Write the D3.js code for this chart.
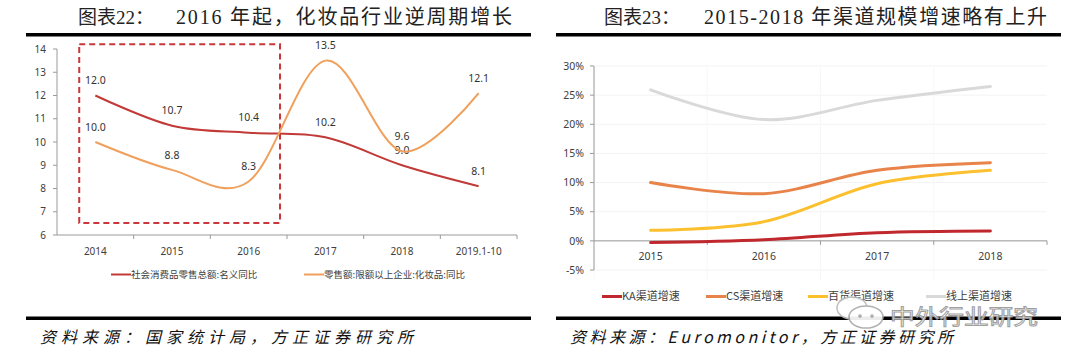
<!DOCTYPE html>
<html>
<head>
<meta charset="utf-8">
<script src="https://cdn.jsdelivr.net/npm/d3@7"></script>
<style>
body { margin: 0; background: #fff; }
svg { display: block; }
</style>
</head>
<body>
<svg id="chart" width="1080" height="353"></svg>
<script>
// left chart data
var yearsL = ["2014", "2015", "2016", "2017", "2018", "2019.1-10"];
var retailTotal = [12.0, 10.7, 10.4, 10.2, 9.0, 8.1];
var cosmetics = [10.0, 8.8, 8.3, 13.5, 9.6, 12.1];
var ticksL = [6, 7, 8, 9, 10, 11, 12, 13, 14];
var legendL = ["社会消费品零售总额:名义同比", "零售额:限额以上企业:化妆品:同比"];

// right chart data
var yearsR = ["2015", "2016", "2017", "2018"];
var kaRate = [-0.3, 0.2, 1.4, 1.7];
var csRate = [10.0, 8.1, 12.1, 13.4];
var dsRate = [1.8, 3.3, 9.8, 12.1];
var onlineRate = [25.9, 20.8, 24.1, 26.5];
var ticksR = [-5, 0, 5, 10, 15, 20, 25, 30];
var legendR = ["KA渠道增速", "CS渠道增速", "百货渠道增速", "线上渠道增速"];

var svg = d3.select("#chart");
var cjk = "'Noto Sans CJK SC', 'Noto Sans', sans-serif";
var serif = "'Liberation Serif', 'Noto Sans CJK SC', serif";

function header(x0, lead, restStart, restEnd, rest) {
 svg.append("text").attr("x", x0).attr("y", 24)
 .style("font-family", serif).style("font-size", "19px").attr("fill", "#222").text(lead);
 svg.append("text").attr("x", restStart).attr("y", 24).attr("textLength", restEnd - restStart).attr("lengthAdjust", "spacing")
 .style("font-family", serif).style("font-size", "20px").attr("fill", "#222").text(rest);
}
function rules(x0, x1) {
 svg.append("rect").attr("x", x0).attr("y", 33).attr("width", x1 - x0).attr("height", 3.5).attr("fill", "#000");
 svg.append("rect").attr("x", x0).attr("y", 316.5).attr("width", x1 - x0).attr("height", 3.5).attr("fill", "#000");
}
function source(x, x1, txt) {
 svg.append("text").attr("x", x).attr("y", 343).attr("textLength", x1 - x).attr("lengthAdjust", "spacing")
 .style("font-family", cjk).style("font-style", "italic").style("font-size", "16px").attr("fill", "#111").text(txt);
}

rules(26, 531);
rules(556, 1061);
header(78, "图表22：", 176, 512, "2016 年起，化妆品行业逆周期增长");
header(604, "图表23：", 704, 1047, "2015-2018 年渠道规模增速略有上升");
source(40, 413, "资料来源：国家统计局，方正证券研究所");
source(570, 953, "资料来源：Euromonitor，方正证券研究所");

// ---------- left chart ----------
var xL = d3.scaleBand().domain(yearsL).range([57, 517]);
var yL = d3.scaleLinear().domain([6, 14]).range([235, 49]);
var gL = svg.append("g");
var axisCol = "#9a9a9a";

gL.append("line").attr("x1", 57).attr("x2", 57).attr("y1", yL(14)).attr("y2", yL(6)).attr("stroke", axisCol);
gL.append("line").attr("x1", 57).attr("x2", 517).attr("y1", yL(6)).attr("y2", yL(6)).attr("stroke", axisCol);
ticksL.forEach(function(t) {
 gL.append("line").attr("x1", 53).attr("x2", 57).attr("y1", yL(t)).attr("y2", yL(t)).attr("stroke", axisCol);
 gL.append("text").attr("x", 46).attr("y", yL(t)).attr("dy", "0.35em").attr("text-anchor", "end")
 .style("font-family", "'Noto Sans', sans-serif").style("font-size", "10px").attr("fill", "#404040").text(t);
});
yearsL.forEach(function(c) {
 var bx = xL(c) + xL.bandwidth();
 gL.append("line").attr("x1", bx).attr("x2", bx).attr("y1", yL(6)).attr("y2", yL(6) + 4).attr("stroke", axisCol);
 gL.append("text").attr("x", xL(c) + xL.bandwidth() / 2).attr("y", 255).attr("text-anchor", "middle")
 .style("font-family", "'Noto Sans', sans-serif").style("font-size", "10px").attr("fill", "#404040").text(c);
});

// dashed box around 2014-2016
gL.append("rect")
 .attr("x", xL("2014") + xL.bandwidth() * 0.29)
 .attr("y", yL(14.2))
 .attr("width", xL("2017") - 7 - (xL("2014") + xL.bandwidth() * 0.29))
 .attr("height", yL(6.52) - yL(14.2))
 .attr("fill", "none").attr("stroke", "#c9373a").attr("stroke-width", 2).attr("stroke-dasharray", "6,4");

var lineL = d3.line()
 .x(function(d, i) { return xL(yearsL[i]) + xL.bandwidth() / 2; })
 .y(function(d) { return yL(d); })
 .curve(d3.curveCardinal.tension(0));
var seriesL = [[retailTotal, "#c23a37"], [cosmetics, "#f0a05c"]];
seriesL.forEach(function(s) {
 gL.append("path").datum(s[0]).attr("d", lineL).attr("fill", "none").attr("stroke", s[1]).attr("stroke-width", 2);
 s[0].forEach(function(v, i) {
 gL.append("text").attr("x", xL(yearsL[i]) + xL.bandwidth() / 2).attr("y", yL(v) - 15).attr("dy", "0.35em")
 .attr("text-anchor", "middle").style("font-family", "'Noto Sans', sans-serif").style("font-size", "10.5px")
 .attr("fill", "#333").text(v.toFixed(1));
 });
});

// left legend
[[111, "#c23a37"], [304, "#f0a05c"]].forEach(function(l, i) {
 gL.append("line").attr("x1", l[0]).attr("x2", l[0] + 20).attr("y1", 274.5).attr("y2", 274.5).attr("stroke", l[1]).attr("stroke-width", 2);
 gL.append("text").attr("x", l[0] + 20).attr("y", 274.5).attr("dy", "0.35em").style("font-family", cjk)
 .style("font-size", "9.5px").attr("fill", "#404040").text(legendL[i]);
});

// ---------- right chart ----------
var xR = d3.scaleBand().domain(yearsR).range([594, 1047]);
var yR = d3.scaleLinear().domain([-5, 30]).range([270, 66]);
var gR = svg.append("g");

ticksR.forEach(function(t) {
 gR.append("line").attr("x1", 594).attr("x2", 1047).attr("y1", yR(t)).attr("y2", yR(t)).attr("stroke", "#f3f3f3");
});
yearsR.forEach(function(c) {
 gR.append("line").attr("x1", xR(c)).attr("x2", xR(c)).attr("y1", yR(30)).attr("y2", yR(-5) + 10).attr("stroke", "#f7f7f7");
});
gR.append("line").attr("x1", 594).attr("x2", 594).attr("y1", yR(30)).attr("y2", yR(-5)).attr("stroke", axisCol);
gR.append("line").attr("x1", 594).attr("x2", 1047).attr("y1", yR(0)).attr("y2", yR(0)).attr("stroke", axisCol);
ticksR.forEach(function(t) {
 gR.append("line").attr("x1", 590).attr("x2", 594).attr("y1", yR(t)).attr("y2", yR(t)).attr("stroke", axisCol);
 gR.append("text").attr("x", 584).attr("y", yR(t)).attr("dy", "0.35em").attr("text-anchor", "end")
 .style("font-family", "'Noto Sans', sans-serif").style("font-size", "10.5px").attr("fill", "#404040").text(t + "%");
});
yearsR.forEach(function(c) {
 var bx = xR(c) + xR.bandwidth();
 gR.append("line").attr("x1", bx).attr("x2", bx).attr("y1", yR(0)).attr("y2", yR(0) + 4).attr("stroke", axisCol);
 gR.append("text").attr("x", xR(c) + xR.bandwidth() / 2).attr("y", 260).attr("text-anchor", "middle")
 .style("font-family", "'Noto Sans', sans-serif").style("font-size", "10.5px").attr("fill", "#404040").text(c);
});

var lineR = d3.line()
 .x(function(d, i) { return xR(yearsR[i]) + xR.bandwidth() / 2; })
 .y(function(d) { return yR(d); })
 .curve(d3.curveCardinal.tension(0));
var seriesR = [[onlineRate, "#d9d9d9"], [csRate, "#e8834a"], [dsRate, "#fcc02e"], [kaRate, "#c0282d"]];
seriesR.forEach(function(s) {
 gR.append("path").datum(s[0]).attr("d", lineR).attr("fill", "none").attr("stroke", s[1]).attr("stroke-width", 3).attr("stroke-linecap", "round");
});

// right legend
var legCols = ["#c0282d", "#e8834a", "#fcc02e", "#d9d9d9"];
var legX = [602, 706, 808, 926];
legendR.forEach(function(name, i) {
 gR.append("line").attr("x1", legX[i]).attr("x2", legX[i] + 20).attr("y1", 296.5).attr("y2", 296.5).attr("stroke", legCols[i]).attr("stroke-width", 3);
 gR.append("text").attr("x", legX[i] + 20).attr("y", 296.5).attr("dy", "0.35em").style("font-family", cjk)
 .style("font-size", "11px").attr("fill", "#404040").text(name);
});

// watermark
var wm = svg.append("g").attr("opacity", 0.92);
wm.append("ellipse").attr("cx", 852).attr("cy", 308).attr("rx", 15).attr("ry", 11).attr("fill", "#fff").attr("stroke", "#bbb").attr("stroke-width", 1.5);
wm.append("ellipse").attr("cx", 866).attr("cy", 317).attr("rx", 17).attr("ry", 11).attr("fill", "#fff").attr("stroke", "#aaa").attr("stroke-width", 1.5);
wm.append("circle").attr("cx", 860).attr("cy", 316).attr("r", 1.8).attr("fill", "#aaa");
wm.append("circle").attr("cx", 872).attr("cy", 316).attr("r", 1.8).attr("fill", "#aaa");
wm.append("text").attr("x", 890).attr("y", 324).attr("textLength", 148).attr("lengthAdjust", "spacingAndGlyphs")
 .style("font-family", cjk).style("font-size", "21px").attr("fill", "#fff").attr("stroke", "#999").attr("stroke-width", 1).text("中外行业研究");
</script>
</body>
</html>
